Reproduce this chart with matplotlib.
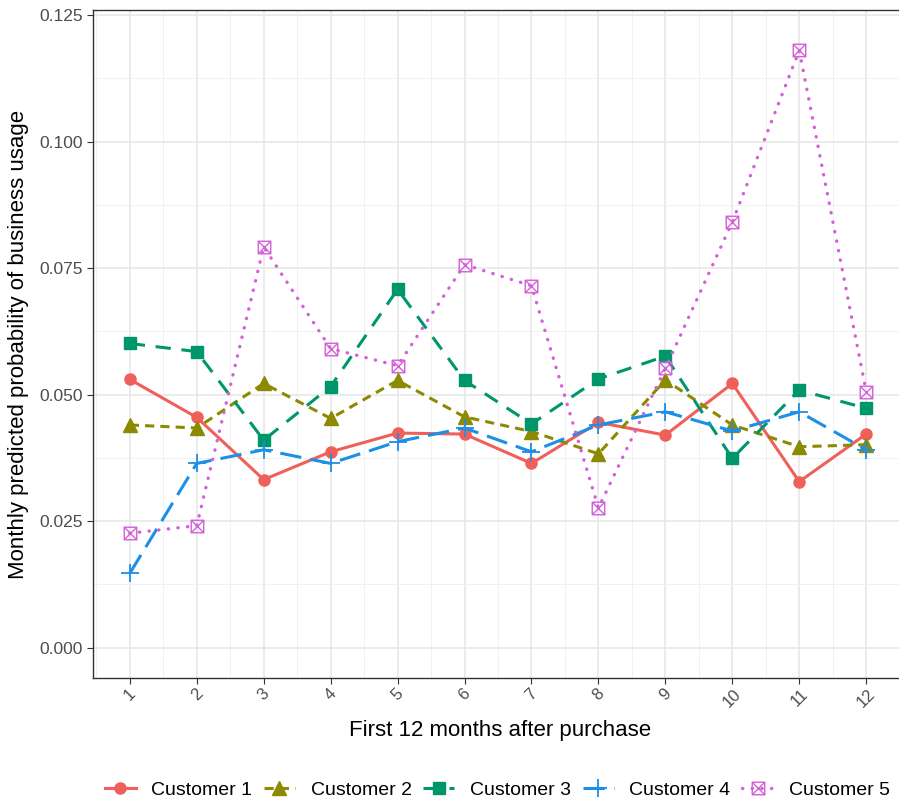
import matplotlib
matplotlib.use("Agg")
import matplotlib.pyplot as plt
from matplotlib.path import Path
from matplotlib.ticker import MultipleLocator
import numpy as np

plt.rcParams['font.family'] = ['Liberation Sans', 'DejaVu Sans']

months = list(range(1, 13))
customers = ["Customer 1", "Customer 2", "Customer 3", "Customer 4", "Customer 5"]

cust1 = [0.0530, 0.0455, 0.0332, 0.0387, 0.0424, 0.0422, 0.0364, 0.0445, 0.0420, 0.0522, 0.0328, 0.0422]
cust2 = [0.0440, 0.0434, 0.0522, 0.0453, 0.0528, 0.0456, 0.0427, 0.0383, 0.0529, 0.0440, 0.0397, 0.0401]
cust3 = [0.0601, 0.0585, 0.0410, 0.0516, 0.0708, 0.0528, 0.0442, 0.0531, 0.0576, 0.0374, 0.0509, 0.0473]
cust4 = [0.0147, 0.0364, 0.0391, 0.0364, 0.0407, 0.0434, 0.0387, 0.0440, 0.0466, 0.0428, 0.0466, 0.0391]
cust5 = [0.0226, 0.0241, 0.0792, 0.0591, 0.0557, 0.0757, 0.0715, 0.0276, 0.0552, 0.0841, 0.1180, 0.0506]

colors = ["#F0605A", "#8C8A00", "#00966B", "#1C8FE6", "#D45FD8"]

# square with a cross inside (like R pch 7)
boxx = Path([(-1, -1), (1, -1), (1, 1), (-1, 1), (-1, -1),
             (-1, -1), (1, 1), (-1, 1), (1, -1)],
            [Path.MOVETO, Path.LINETO, Path.LINETO, Path.LINETO, Path.CLOSEPOLY,
             Path.MOVETO, Path.LINETO, Path.MOVETO, Path.LINETO])

styles = [
    dict(ls='-', marker='o', ms=8, mfc=colors[0], mec=colors[0]),
    dict(ls=(0, (3, 2)), marker='^', ms=9.5, mfc=colors[1], mec=colors[1]),
    dict(ls=(0, (5, 3.5)), marker='s', ms=8, mfc=colors[2], mec=colors[2]),
    dict(ls=(0, (7, 3)), marker='+', ms=13, mew=1.3),
    dict(ls=(0, (0.1, 2.8)), marker=boxx, ms=9, mfc='none', mew=1.0, dash_capstyle='round'),
]
data = [cust1, cust2, cust3, cust4, cust5]

fig = plt.figure(figsize=(8.99, 8.05), dpi=100)
ax = fig.add_axes([93 / 899, 1 - 678 / 805, 815 / 899, 668 / 805])

for vals, name, c, st in zip(data, customers, colors, styles):
    lw = 2.4 if name == "Customer 5" else 2.2
    ax.plot(months, vals, color=c, lw=lw, label=name, **st)

ax.set_xlim(0.45, 12.55 + 5 / 67)
ax.set_ylim(-0.006, 0.126)
ax.xaxis.set_minor_locator(MultipleLocator(0.5))
ax.yaxis.set_minor_locator(MultipleLocator(0.0125))
ax.set_yticks([0, 0.025, 0.05, 0.075, 0.1, 0.125])
ax.set_yticklabels(["0.000", "0.025", "0.050", "0.075", "0.100", "0.125"])
ax.set_xticks(months)
ax.set_xticklabels([str(m) for m in months], rotation=45)

ax.grid(which='major', color='#E6E6E6', lw=1.1)
ax.grid(which='minor', color='#EFEFEF', lw=0.6)
ax.set_axisbelow(True)
for s in ax.spines.values():
    s.set_color('#333333')
    s.set_linewidth(1.0)
ax.tick_params(which='major', length=4, color='#333333', labelcolor='#4D4D4D', labelsize=12.5)
ax.tick_params(axis='x', labelsize=12, pad=2)
ax.tick_params(which='minor', length=0)

ax.set_xlabel("First 12 months after purchase", fontsize=16, labelpad=7)
ax.set_ylabel("Monthly predicted probability of business usage", fontsize=16, labelpad=7)

fig.legend(loc='center', bbox_to_anchor=(0.553, 0.019), ncol=5, frameon=False,
           fontsize=14, handlelength=1.6, columnspacing=0.6, handletextpad=0.8)

fig.savefig("out.png", dpi=100)
